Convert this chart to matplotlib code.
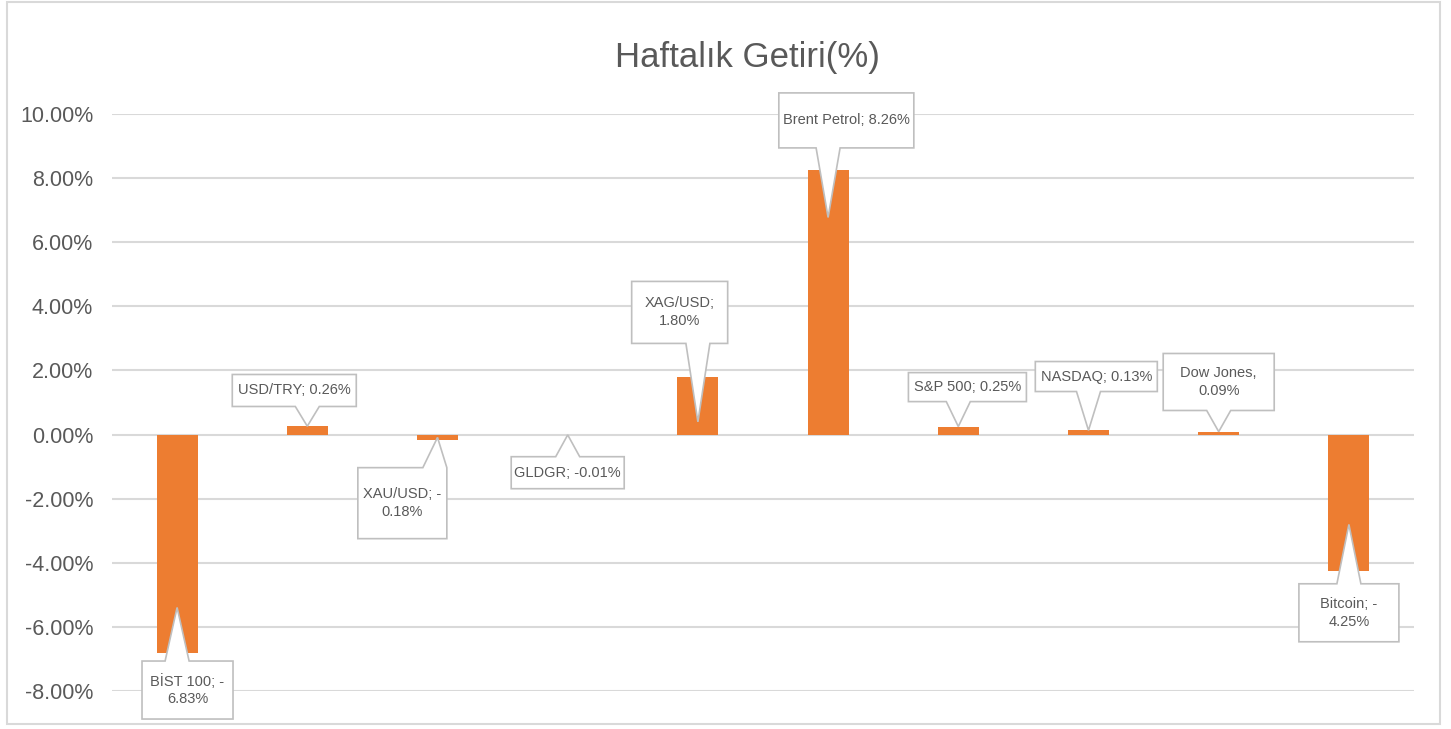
import matplotlib
matplotlib.use('Agg')
import matplotlib.pyplot as plt
import matplotlib.transforms as mtransforms
from matplotlib.patches import Polygon, Rectangle
import numpy as np

plt.rcParams['font.family'] = ['Liberation Sans', 'DejaVu Sans']

# weekly returns (%)
names = ['BİST 100', 'USD/TRY', 'XAU/USD', 'GLDGR', 'XAG/USD', 'Brent Petrol',
         'S&P 500', 'NASDAQ', 'Dow Jones', 'Bitcoin']
values = [-6.83, 0.26, -0.18, -0.01, 1.80, 8.26, 0.25, 0.13, 0.09, -4.25]
labels = ['BİST 100; -\n6.83%', 'USD/TRY; 0.26%', 'XAU/USD; -\n0.18%', 'GLDGR; -0.01%',
          'XAG/USD;\n1.80%', 'Brent Petrol; 8.26%', 'S&P 500; 0.25%', 'NASDAQ; 0.13%',
          'Dow Jones,\n0.09%', 'Bitcoin; -\n4.25%']
yticks = [-8, -6, -4, -2, 0, 2, 4, 6, 8, 10]

# callout layout: box centre (x offset from bar, y in %), box size in px, pointer position as share of bar
box_dx = [0.08, -0.10, -0.27, 0.0, -0.14, 0.14, 0.07, 0.06, 0.0, 0.0]
box_y = [-7.97, 1.375, -2.14, -1.19, 3.81, 9.80, 1.48, 1.81, 1.64, -5.56]
box_w = [91, 124, 89, 113, 96, 135, 118, 122, 111, 100]
box_h = [58, 32, 71, 32, 62, 55, 29, 30, 57, 58]
tip_frac = [0.79, 1.0, 0.5, 1.0, 0.22, 0.82, 1.0, 1.0, 1.0, 0.66]

orange = '#ED7D31'
grey_txt = '#595959'
grid_c = '#D9D9D9'

fig = plt.figure(figsize=(14.51, 7.29), dpi=100)
ax = fig.add_axes([112 / 1451, 1 - 691 / 729, 1302 / 1451, 577 / 729])

x = np.arange(len(values))
ax.bar(x, values, width=0.315, color=orange, zorder=2)
ax.set_xlim(-0.5, len(values) - 0.5)
ax.set_ylim(-8, 10)
ax.set_yticks(yticks)
ax.set_yticklabels(['{:.2f}%'.format(v) for v in yticks])
ax.set_xticks([])
ax.tick_params(axis='y', length=0, pad=13.5, labelsize=15.5, labelcolor=grey_txt)
ax.grid(axis='y', color=grid_c, linewidth=1.5, zorder=0)
for s in ax.spines.values():
    s.set_visible(False)

fig.text(747 / 1451, 1 - 57 / 729, 'Haftalık Getiri(%)', ha='center', va='center',
         fontsize=25, color=grey_txt)

# outer chart border
fig.patches.append(Rectangle((7 / 1451, 1 - 724 / 729), 1433 / 1451, 722 / 729,
                             transform=fig.transFigure, fill=False, edgecolor=grid_c, linewidth=1.5))

fig.canvas.draw()
ident = mtransforms.IdentityTransform()
for i, v in enumerate(values):
    cx, cy = ax.transData.transform((i + box_dx[i], box_y[i]))
    tx, ty = ax.transData.transform((i, v * tip_frac[i]))
    l, r = cx - box_w[i] / 2, cx + box_w[i] / 2
    b, t = cy - box_h[i] / 2, cy + box_h[i] / 2
    hw = 12
    bx = min(max(tx, l + hw), r - hw)
    if ty < b:
        pts = [(l, t), (r, t), (r, b), (bx + hw, b), (tx, ty), (bx - hw, b), (l, b)]
    else:
        pts = [(l, b), (l, t), (bx - hw, t), (tx, ty), (bx + hw, t), (r, t), (r, b)]
    ax.add_patch(Polygon(pts, closed=True, facecolor='white', edgecolor='#BFBFBF',
                         linewidth=1.2, transform=ident, zorder=3, clip_on=False))
    ax.text(cx, cy, labels[i], transform=ident, ha='center', va='center', fontsize=10.5,
            color=grey_txt, zorder=4, linespacing=1.35)

fig.savefig('out.png', dpi=100)
